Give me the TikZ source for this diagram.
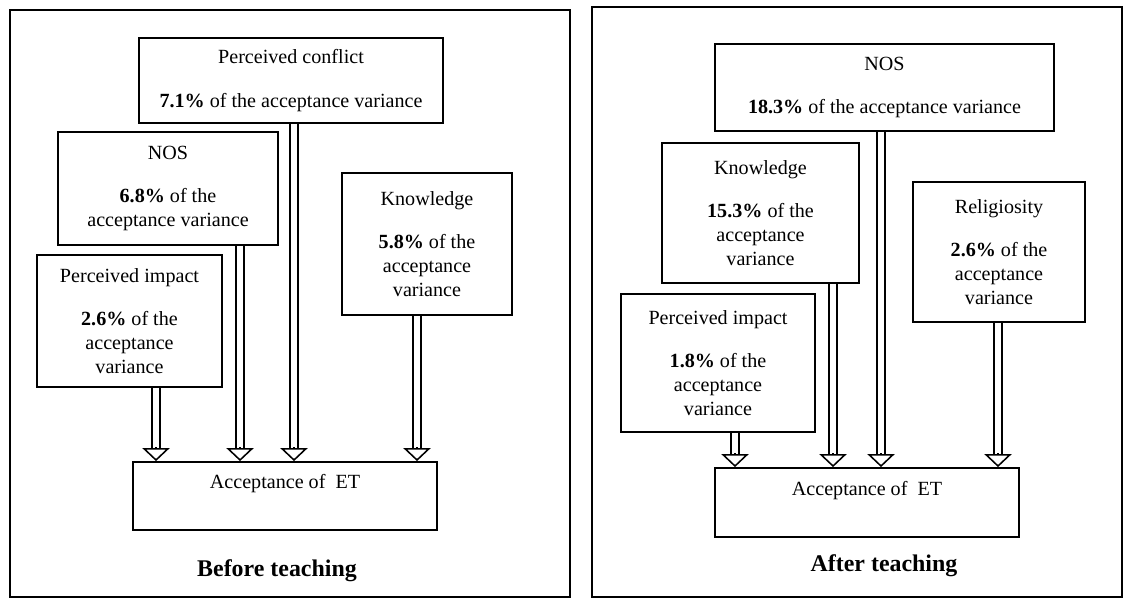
\documentclass[tikz,border=0pt]{standalone}
\usepackage{fontspec}
\setmainfont{Liberation Serif}
\usetikzlibrary{arrows.meta}

% double-lined arrow with an open head: source, target, x offset
\newcommand{\dblarrow}[3]{%
  \draw[shaft] ([xshift=#3]#1.south) -- ([xshift=#3, yshift=0.32cm]#1.south |- #2.north);
  \draw[arrhead] ([xshift=#3, yshift=0.34cm]#1.south |- #2.north) -- ([xshift=#3]#1.south |- #2.north);}

\begin{document}
\begin{tikzpicture}[x=0.025cm, y=-0.025cm,
  varbox/.style={rectangle, draw=black, line width=1.3pt, inner sep=0pt, align=center,
    font=\fontsize{14.3}{17}\selectfont},
  accbox/.style={rectangle, draw=black, line width=1.3pt, inner sep=0pt,
    minimum width=7.6cm, text height=9.5pt, text depth=19.5pt,
    font=\fontsize{14.3}{17}\selectfont},
  caption/.style={font=\fontsize{17}{20}\selectfont\bfseries},
  panel/.style={draw=black, line width=1.3pt},
  shaft/.style={draw=black, line width=1.1pt, double=white, double distance=0.17cm},
  arrhead/.style={draw=black, line width=1.1pt,
    -{Triangle[open, width=0.68cm, length=0.325cm]}}
]
  \useasboundingbox (0,0) rectangle (1128,598);

  % before teaching
  \draw[panel] (10,10) rectangle (570,597);
  \node[varbox, minimum width=7.6cm,   minimum height=2.125cm] (confl) at (291, 80.5)
    {Perceived conflict\\[14pt]\textbf{7.1\%} of the acceptance variance};
  \node[varbox, minimum width=5.5cm,   minimum height=2.825cm] (nosA)  at (168, 188.5)
    {NOS\\[14pt]\textbf{6.8\%} of the\\acceptance variance};
  \node[varbox, minimum width=4.625cm, minimum height=3.3cm]   (impA)  at (129.5, 321)
    {Perceived impact\\[14pt]\textbf{2.6\%} of the\\acceptance\\variance};
  \node[varbox, minimum width=4.25cm,  minimum height=3.55cm]  (knowA) at (427, 244)
    {Knowledge\\[14pt]\textbf{5.8\%} of the\\acceptance\\variance};
  \node[accbox, minimum height=1.7cm] (accA) at (285, 496) {Acceptance of~~ET};
  \node[caption] (capA) at (277, 571) {Before teaching};

  \dblarrow{impA}{accA}{0.6625cm}
  \dblarrow{nosA}{accA}{1.8cm}
  \dblarrow{confl}{accA}{0.075cm}
  \dblarrow{knowA}{accA}{-0.25cm}

  % after teaching
  \draw[panel] (592,7) rectangle (1122,597);
  \node[varbox, minimum width=8.475cm, minimum height=2.175cm] (nosB)  at (884.5, 87.5)
    {NOS\\[14pt]\textbf{18.3\%} of the acceptance variance};
  \node[varbox, minimum width=4.925cm, minimum height=3.5cm]   (knowB) at (760.5, 213)
    {Knowledge\\[14pt]\textbf{15.3\%} of the\\acceptance\\variance};
  \node[varbox, minimum width=4.3cm,   minimum height=3.5cm]   (relB)  at (999, 252)
    {Religiosity\\[14pt]\textbf{2.6\%} of the\\acceptance\\variance};
  \node[varbox, minimum width=4.85cm,  minimum height=3.45cm]  (impB)  at (718, 363)
    {Perceived impact\\[14pt]\textbf{1.8\%} of the\\acceptance\\variance};
  \node[accbox, minimum height=1.725cm] (accB) at (867, 502.5) {Acceptance of~~ET};
  \node[caption] (capB) at (884, 566) {After teaching};

  \dblarrow{impB}{accB}{0.425cm}
  \dblarrow{knowB}{accB}{1.8125cm}
  \dblarrow{nosB}{accB}{-0.0875cm}
  \dblarrow{relB}{accB}{-0.025cm}
\end{tikzpicture}
\end{document}
